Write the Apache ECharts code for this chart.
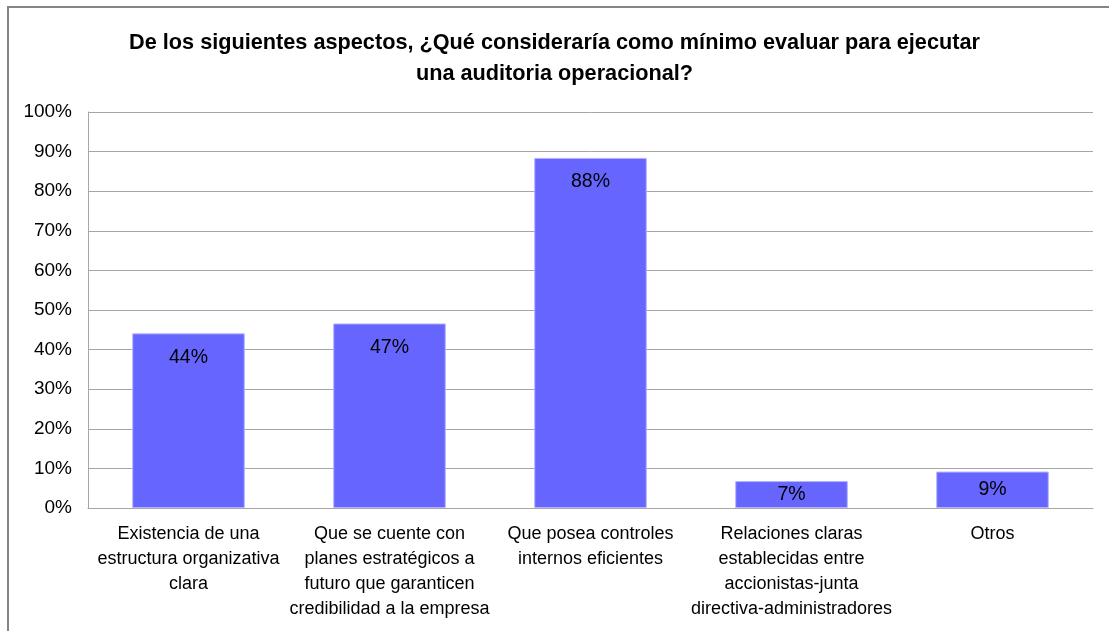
<!DOCTYPE html>
<html>
<head>
<meta charset="utf-8">
<script src="https://cdn.jsdelivr.net/npm/echarts@6/dist/echarts.min.js"></script>
<style>
html,body{margin:0;padding:0;background:#fff;}
#frame{position:absolute;left:7px;top:6px;width:1102px;height:625px;border-top:2px solid #858585;border-left:2px solid #858585;box-sizing:border-box;}
#chart{position:absolute;left:0;top:0;width:1109px;height:631px;}
</style>
</head>
<body>
<div id="frame"></div>
<div id="chart"></div>
<script>
var titleText = "De los siguientes aspectos, ¿Qué consideraría como mínimo evaluar para ejecutar\nuna auditoria operacional?";
var categories = [
  "Existencia de una\nestructura organizativa\nclara",
  "Que se cuente con\nplanes estratégicos a\nfuturo que garanticen\ncredibilidad a la empresa",
  "Que posea controles\ninternos eficientes",
  "Relaciones claras\nestablecidas entre\naccionistas-junta\ndirectiva-administradores",
  "Otros"
];
var values = [44.1, 46.6, 88.4, 6.8, 9.2];
var yTicks = [0, 10, 20, 30, 40, 50, 60, 70, 80, 90, 100];

var chart = echarts.init(document.getElementById('chart'), null, {renderer: 'canvas'});
var seriesData = values.map(function (v) {
  var item = {value: v};
  if (v < 20) {
    item.label = {position: 'inside'};
  }
  return item;
});
chart.setOption({
  backgroundColor: 'transparent',
  animation: false,
  title: {
    text: titleText,
    left: 'center',
    top: 23,
    textStyle: {
      fontFamily: '"Liberation Sans", Arial, sans-serif',
      fontWeight: 'bold',
      fontSize: 21.7,
      lineHeight: 31,
      color: '#000'
    }
  },
  grid: {left: 88, right: 16, top: 112, bottom: 123, containLabel: false},
  xAxis: {
    type: 'category',
    data: categories,
    axisTick: {show: false},
    axisLine: {show: true, lineStyle: {color: '#a6a6a6', width: 1}},
    axisLabel: {
      interval: 0,
      margin: 14,
      color: '#000',
      fontFamily: '"Liberation Sans", Arial, sans-serif',
      fontSize: 18,
      lineHeight: 25
    }
  },
  yAxis: {
    type: 'value',
    min: 0,
    max: 100,
    interval: 10,
    axisLine: {show: true, lineStyle: {color: '#a6a6a6', width: 1}},
    axisTick: {show: false},
    splitLine: {show: true, lineStyle: {color: '#a6a6a6', width: 1}},
    axisLabel: {
      margin: 16,
      color: '#000',
      fontFamily: '"Liberation Sans", Arial, sans-serif',
      fontSize: 19,
      formatter: function (v) { return yTicks.indexOf(v) >= 0 ? v + '%' : ''; }
    }
  },
  series: [{
    type: 'bar',
    data: seriesData,
    barCategoryGap: '44%',
    itemStyle: {color: '#6666ff', borderColor: '#b3b3ff', borderWidth: 1},
    label: {
      show: true,
      position: 'insideTop',
      distance: 14,
      color: '#000',
      fontFamily: '"Liberation Sans", Arial, sans-serif',
      fontSize: 19.5,
      formatter: function (p) { return Math.round(p.value) + '%'; }
    }
  }]
});
</script>
</body>
</html>
